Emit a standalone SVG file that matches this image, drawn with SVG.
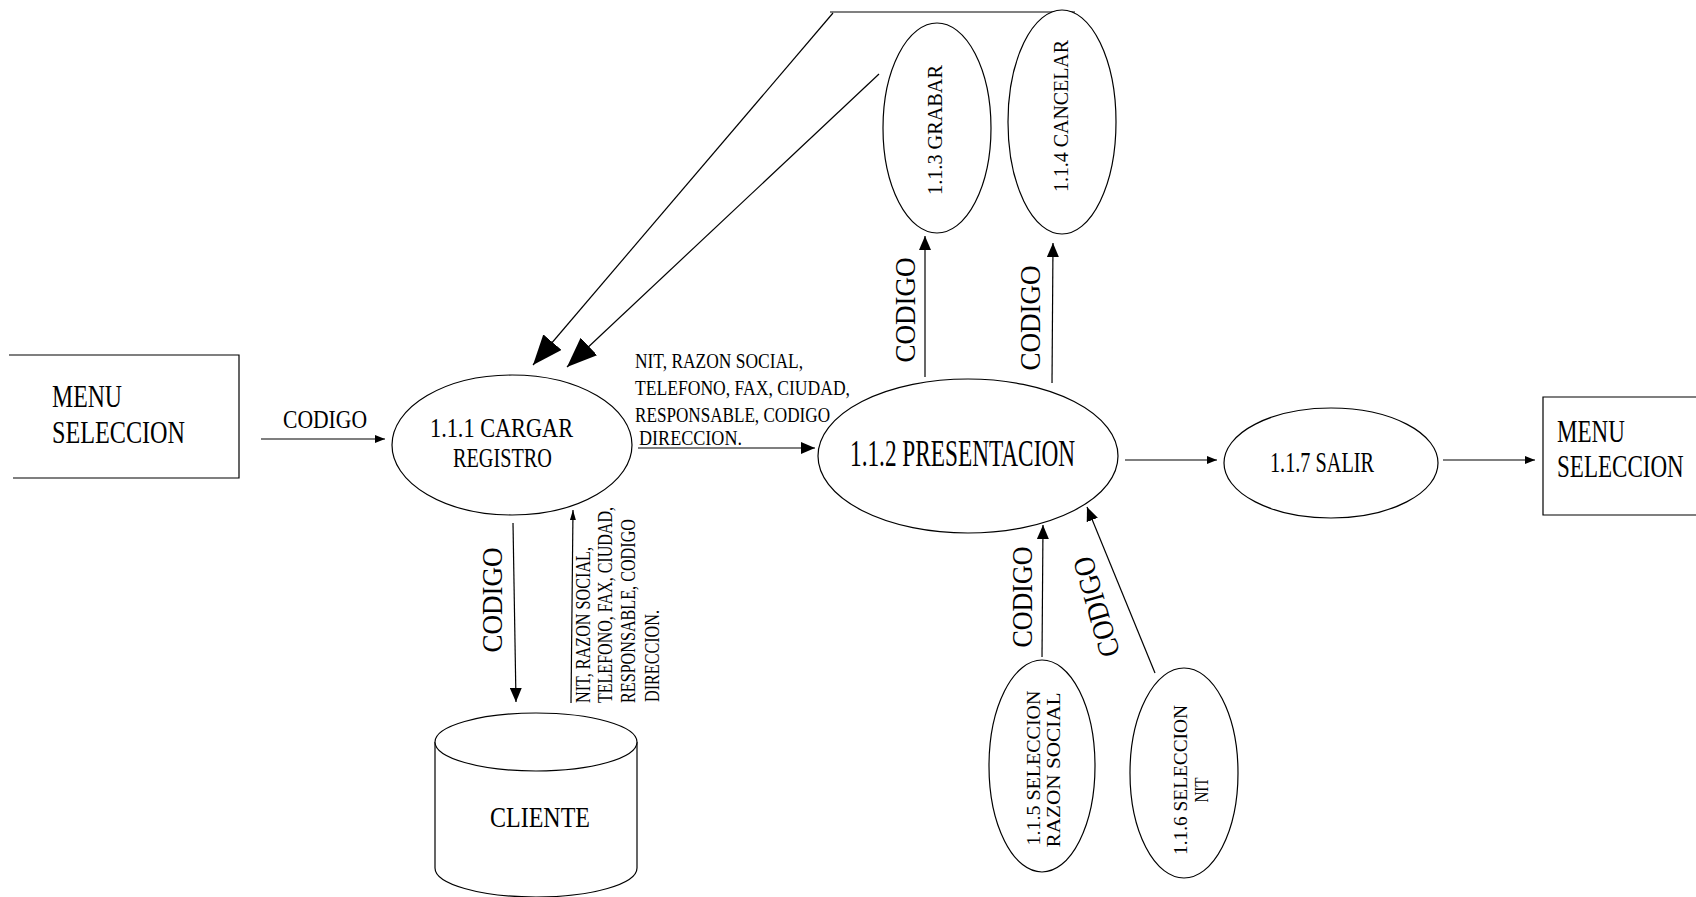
<svg xmlns="http://www.w3.org/2000/svg" width="1696" height="897" viewBox="0 0 1696 897">
<style>
  text { font-family: "Liberation Serif", "Times New Roman", serif; fill: #000; }
  .shape { fill: #fff; stroke: #000; stroke-width: 1.2; }
  .ln { fill: none; stroke: #000; stroke-width: 1.2; }
  .big { marker-end: url(#mBig); }
  .sm { marker-end: url(#mSm); }
  .md { marker-end: url(#mMd); }
  .tn { marker-end: url(#mTn); }
  .menu { font-size: 32px; }
</style>
<defs>
  <marker id="mBig" markerUnits="userSpaceOnUse" markerWidth="30" markerHeight="24" refX="30" refY="12" orient="auto"><path d="M0,0 L30,12 L0,24 z" fill="#000"/></marker>
  <marker id="mSm" markerUnits="userSpaceOnUse" markerWidth="14" markerHeight="12" refX="14" refY="6" orient="auto"><path d="M0,0 L14,6 L0,12 z" fill="#000"/></marker>
  <marker id="mMd" markerUnits="userSpaceOnUse" markerWidth="10" markerHeight="8" refX="10" refY="4" orient="auto"><path d="M0,0 L10,4 L0,8 z" fill="#000"/></marker>
  <marker id="mTn" markerUnits="userSpaceOnUse" markerWidth="10" markerHeight="6" refX="10" refY="3" orient="auto"><path d="M0,0 L10,3 L0,6 z" fill="#000"/></marker>
</defs>

<g id="connectors">
  <line x1="830" y1="12" x2="1075" y2="12" stroke="#808080" stroke-width="2"/>
  <line class="ln md" x1="261" y1="439" x2="385" y2="439"/>
  <text x="283" y="428" font-size="25" textLength="84" lengthAdjust="spacingAndGlyphs">CODIGO</text>
  <line class="ln big" x1="833" y1="13" x2="533" y2="365"/>
  <line class="ln big" x1="879" y1="74" x2="567" y2="367"/>
  <line class="ln sm" x1="638" y1="448" x2="815" y2="448"/>
  <g font-size="22">
    <text x="635" y="368" textLength="168" lengthAdjust="spacingAndGlyphs">NIT, RAZON SOCIAL,</text>
    <text x="635" y="395" textLength="215" lengthAdjust="spacingAndGlyphs">TELEFONO, FAX, CIUDAD,</text>
    <text x="635" y="422" textLength="195" lengthAdjust="spacingAndGlyphs">RESPONSABLE, CODIGO</text>
    <text x="639" y="445" textLength="103" lengthAdjust="spacingAndGlyphs">DIRECCION.</text>
  </g>
  <line class="ln sm" x1="513" y1="523" x2="516" y2="702"/>
  <text transform="translate(502,600) rotate(-90)" text-anchor="middle" font-size="30" textLength="105" lengthAdjust="spacingAndGlyphs">CODIGO</text>
  <line class="ln tn" x1="571" y1="703" x2="573" y2="510"/>
  <g font-size="20">
    <text transform="translate(590,703) rotate(-90)" textLength="156" lengthAdjust="spacingAndGlyphs">NIT, RAZON SOCIAL,</text>
    <text transform="translate(612,703) rotate(-90)" textLength="196" lengthAdjust="spacingAndGlyphs">TELEFONO, FAX, CIUDAD,</text>
    <text transform="translate(635,703) rotate(-90)" textLength="184" lengthAdjust="spacingAndGlyphs">RESPONSABLE, CODIGO</text>
    <text transform="translate(659,702) rotate(-90)" textLength="92" lengthAdjust="spacingAndGlyphs">DIRECCION.</text>
  </g>
  <line class="ln sm" x1="925" y1="377" x2="925" y2="236"/>
  <text transform="translate(915,310) rotate(-90)" text-anchor="middle" font-size="30" textLength="105" lengthAdjust="spacingAndGlyphs">CODIGO</text>
  <line class="ln sm" x1="1052" y1="383" x2="1053" y2="243"/>
  <text transform="translate(1040,318) rotate(-90)" text-anchor="middle" font-size="30" textLength="105" lengthAdjust="spacingAndGlyphs">CODIGO</text>
  <line class="ln sm" x1="1042" y1="657" x2="1043" y2="525"/>
  <text transform="translate(1032,597) rotate(-90)" text-anchor="middle" font-size="30" textLength="101" lengthAdjust="spacingAndGlyphs">CODIGO</text>
  <line class="ln sm" x1="1155" y1="673" x2="1087" y2="507"/>
  <text transform="translate(1106,604) rotate(-106)" text-anchor="middle" font-size="30" textLength="103" lengthAdjust="spacingAndGlyphs">CODIGO</text>
  <line class="ln md" x1="1125" y1="460" x2="1217" y2="460"/>
  <line class="ln md" x1="1443" y1="460" x2="1535" y2="460"/>
</g>

<g id="menu-left">
  <path class="ln" d="M9,355 H239 V478 H13"/>
  <text class="menu" x="52" y="407" textLength="70" lengthAdjust="spacingAndGlyphs">MENU</text>
  <text class="menu" x="52" y="443" textLength="133" lengthAdjust="spacingAndGlyphs">SELECCION</text>
</g>

<g id="p111">
  <ellipse class="shape" cx="512" cy="445" rx="120" ry="70"/>
  <text x="430" y="437" font-size="28" textLength="143" lengthAdjust="spacingAndGlyphs">1.1.1 CARGAR</text>
  <text x="453" y="467" font-size="28" textLength="99" lengthAdjust="spacingAndGlyphs">REGISTRO</text>
</g>

<g id="cliente">
  <path class="shape" d="M435,742 V868 A101,29 0 0 0 637,868 V742"/>
  <ellipse class="shape" cx="536" cy="742" rx="101" ry="29"/>
  <text x="490" y="827" font-size="30" textLength="100" lengthAdjust="spacingAndGlyphs">CLIENTE</text>
</g>

<g id="p112">
  <ellipse class="shape" cx="968" cy="456" rx="150" ry="77"/>
  <text x="850" y="466" font-size="38" textLength="225" lengthAdjust="spacingAndGlyphs">1.1.2 PRESENTACION</text>
</g>

<g id="p113">
  <ellipse class="shape" cx="937" cy="128" rx="54" ry="105"/>
  <text transform="translate(942,130) rotate(-90)" text-anchor="middle" font-size="20" textLength="130" lengthAdjust="spacingAndGlyphs">1.1.3 GRABAR</text>
</g>

<g id="p114">
  <ellipse class="shape" cx="1062" cy="122" rx="54" ry="112"/>
  <text transform="translate(1068,116) rotate(-90)" text-anchor="middle" font-size="20" textLength="152" lengthAdjust="spacingAndGlyphs">1.1.4 CANCELAR</text>
</g>

<g id="p115">
  <ellipse class="shape" cx="1042" cy="766" rx="53" ry="106"/>
  <text transform="translate(1040,768) rotate(-90)" text-anchor="middle" font-size="19" textLength="155" lengthAdjust="spacingAndGlyphs">1.1.5 SELECCION</text>
  <text transform="translate(1060,770) rotate(-90)" text-anchor="middle" font-size="19" textLength="155" lengthAdjust="spacingAndGlyphs">RAZON SOCIAL</text>
</g>

<g id="p116">
  <ellipse class="shape" cx="1184" cy="773" rx="54" ry="105"/>
  <text transform="translate(1187,780) rotate(-90)" text-anchor="middle" font-size="19" textLength="150" lengthAdjust="spacingAndGlyphs">1.1.6  SELECCION</text>
  <text transform="translate(1208,790) rotate(-90)" text-anchor="middle" font-size="19" textLength="25" lengthAdjust="spacingAndGlyphs">NIT</text>
</g>

<g id="p117">
  <ellipse class="shape" cx="1331" cy="463" rx="107" ry="55"/>
  <text x="1270" y="472" font-size="30" textLength="104" lengthAdjust="spacingAndGlyphs">1.1.7 SALIR</text>
</g>

<g id="menu-right">
  <path class="ln" d="M1696,397 H1543 V515 H1696"/>
  <text class="menu" transform="translate(1557,442) scale(0.72,1)">MENU</text>
  <text class="menu" transform="translate(1557,477) scale(0.72,1)">SELECCION</text>
</g>
</svg>
